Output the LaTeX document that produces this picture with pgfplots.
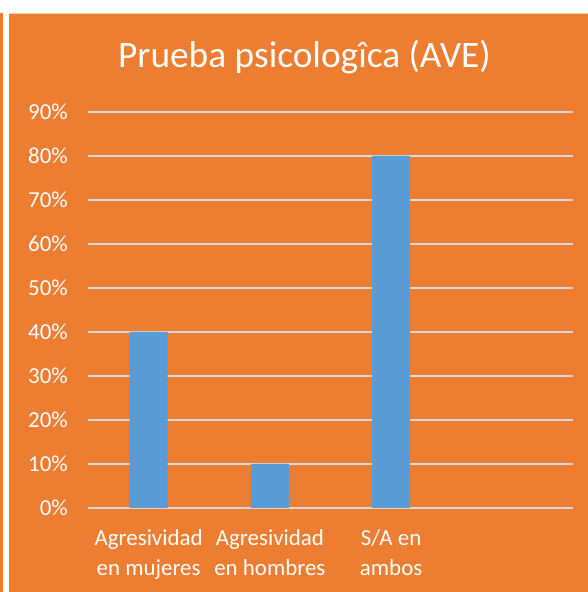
\documentclass[border=0pt]{standalone}
\usepackage{fontspec}
\setmainfont{Carlito}
\usepackage{pgfplots}
\pgfplotsset{compat=1.18}
\definecolor{bg}{HTML}{ED7D31}
\definecolor{barc}{HTML}{5B9BD5}
\definecolor{gridc}{HTML}{D9D9D9}
\begin{document}
\begin{tikzpicture}[x=1bp,y=1bp]
\useasboundingbox (0,0) rectangle (588,592);
\fill[white] (0,0) rectangle (588,592);
\fill[bg] (9,0) rectangle (588,578);
\fill[bg] (0,0) rectangle (2.5,579);
\draw[bg!40, line width=0.8bp] (9,578.4) -- (588,578.4);
\node[anchor=base, text=white, font=\fontsize{37.5}{45}\selectfont, inner sep=0] at (304.5,524) {Prueba psicologîca (AVE)};
\begin{axis}[
  at={(88bp,84bp)}, anchor=south west,
  scale only axis, width=485bp, height=396bp,
  xmin=-0.5, xmax=3.5, ymin=0, ymax=90,
  axis line style={draw=none},
  major tick length=0pt,
  ymajorgrids,
  grid style={gridc, line width=1.6bp},
  ytick={0,10,...,90},
  yticklabel={\pgfmathprintnumber{\tick}\%},
  /pgf/number format/assume math mode=true,
  xtick={0,1,2},
  xticklabels={{Agresividad\\en mujeres},{Agresividad\\en hombres},{S/A en\\ambos}},
  tick label style={text=white, font=\fontsize{23}{30.5}\selectfont, inner sep=0pt},
  yticklabel style={anchor=east, xshift=-20bp},
  xticklabel style={align=center, anchor=north, yshift=-21bp},
  ybar, bar width=38bp,
]
\addplot[fill=barc, draw=none] coordinates {(0,40) (1,10) (2,80)};
\end{axis}
\end{tikzpicture}
\end{document}
